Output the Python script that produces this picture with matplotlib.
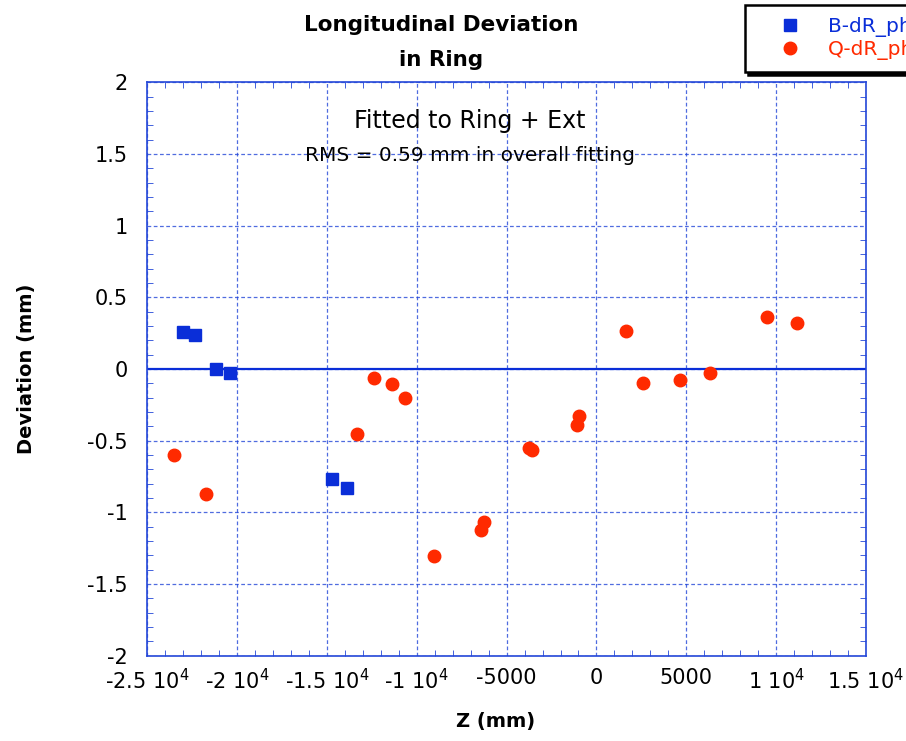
import numpy as np
import matplotlib.pyplot as plt
from matplotlib.ticker import MultipleLocator, FuncFormatter

# B-dR data (blue squares)
b_z = [-22990, -22320, -21200, -20420, -14730, -13890]
b_dev = [0.255, 0.234, 0.003, -0.030, -0.765, -0.828]

# Q-dR data (red circles)
q_z = [-23490, -21760, -13340, -12390, -11380, -10660, -9040, -6420, -6250,
       -3740, -3570, -1060, -950, 1670, 2570, 4630, 6310, 9490, 11160]
q_dev = [-0.597, -0.870, -0.457, -0.066, -0.108, -0.199, -1.302, -1.121, -1.065,
         -0.548, -0.562, -0.388, -0.325, 0.262, -0.101, -0.080, -0.031, 0.360, 0.318]

x_ticks = [-25000, -20000, -15000, -10000, -5000, 0, 5000, 10000, 15000]
x_ticklabels = ['-2.5 10$^4$', '-2 10$^4$', '-1.5 10$^4$', '-1 10$^4$', '-5000',
                '0', '5000', '1 10$^4$', '1.5 10$^4$']

axis_blue = '#2447d8'
blue = '#0a2ed8'
red = '#ff2a00'

plt.rcParams['font.family'] = ['DejaVu Sans']
plt.rcParams['mathtext.default'] = 'regular'

fig = plt.figure(figsize=(9.06, 7.41), dpi=100)
ax = fig.add_axes([0.1626, 0.1151, 0.7932, 0.7739])

ax.axhline(0, color=blue, linewidth=1.6, zorder=2)
ax.plot(b_z, b_dev, 's', color=blue, markersize=9, label='B-dR_phys', zorder=3)
ax.plot(q_z, q_dev, 'o', color=red, markersize=9, label='Q-dR_phys', zorder=3)

ax.set_xlim(-25000, 15000)
ax.set_ylim(-2, 2)
ax.set_xticks(x_ticks)
ax.set_xticklabels(x_ticklabels)
ax.xaxis.set_minor_locator(MultipleLocator(1000))
ax.yaxis.set_major_locator(MultipleLocator(0.5))
ax.yaxis.set_minor_locator(MultipleLocator(0.1))
ax.yaxis.set_major_formatter(FuncFormatter(lambda v, p: f'{v:g}'))

ax.grid(True, which='major', color=axis_blue, linestyle=(0, (3, 2)), linewidth=0.9, alpha=0.8)
for s in ax.spines.values():
    s.set_color(axis_blue)
    s.set_linewidth(1.2)
ax.tick_params(which='both', direction='in', top=True, right=True, color=axis_blue,
               labelsize=15)
ax.tick_params(axis='x', pad=9)
ax.tick_params(axis='y', pad=14)
ax.tick_params(which='major', length=0)
ax.tick_params(which='minor', length=4.5)

ax.set_xlabel('Z (mm)', fontsize=14, fontweight='bold')
ax.set_ylabel('Deviation (mm)', fontsize=14, fontweight='bold')
ax.xaxis.set_label_coords(0.4845, -0.098)
ax.yaxis.set_label_coords(-0.155, 0.5)

fig.text(0.487, 0.966, 'Longitudinal Deviation', ha='center', va='center',
         fontsize=15.5, fontweight='bold')
fig.text(0.487, 0.919, 'in Ring', ha='center', va='center', fontsize=15.5, fontweight='bold')

ax.text(0.4485, 0.9325, 'Fitted to Ring + Ext', transform=ax.transAxes, ha='center',
        va='center', fontsize=17)
ax.text(0.4485, 0.873, 'RMS = 0.59 mm in overall fitting', transform=ax.transAxes,
        ha='center', va='center', fontsize=14.5)

leg = fig.legend(loc='upper left', bbox_to_anchor=(0.8223, 0.9933), fontsize=14.5,
                 frameon=True, shadow={'color': 'black', 'alpha': 1}, fancybox=False,
                 borderpad=0.6, borderaxespad=0, handletextpad=0.2, labelspacing=0.15,
                 handlelength=3.3, labelcolor='markerfacecolor')
leg.get_frame().set_edgecolor('black')
leg.get_frame().set_linewidth(1.8)

fig.savefig('out.png', dpi=100)
